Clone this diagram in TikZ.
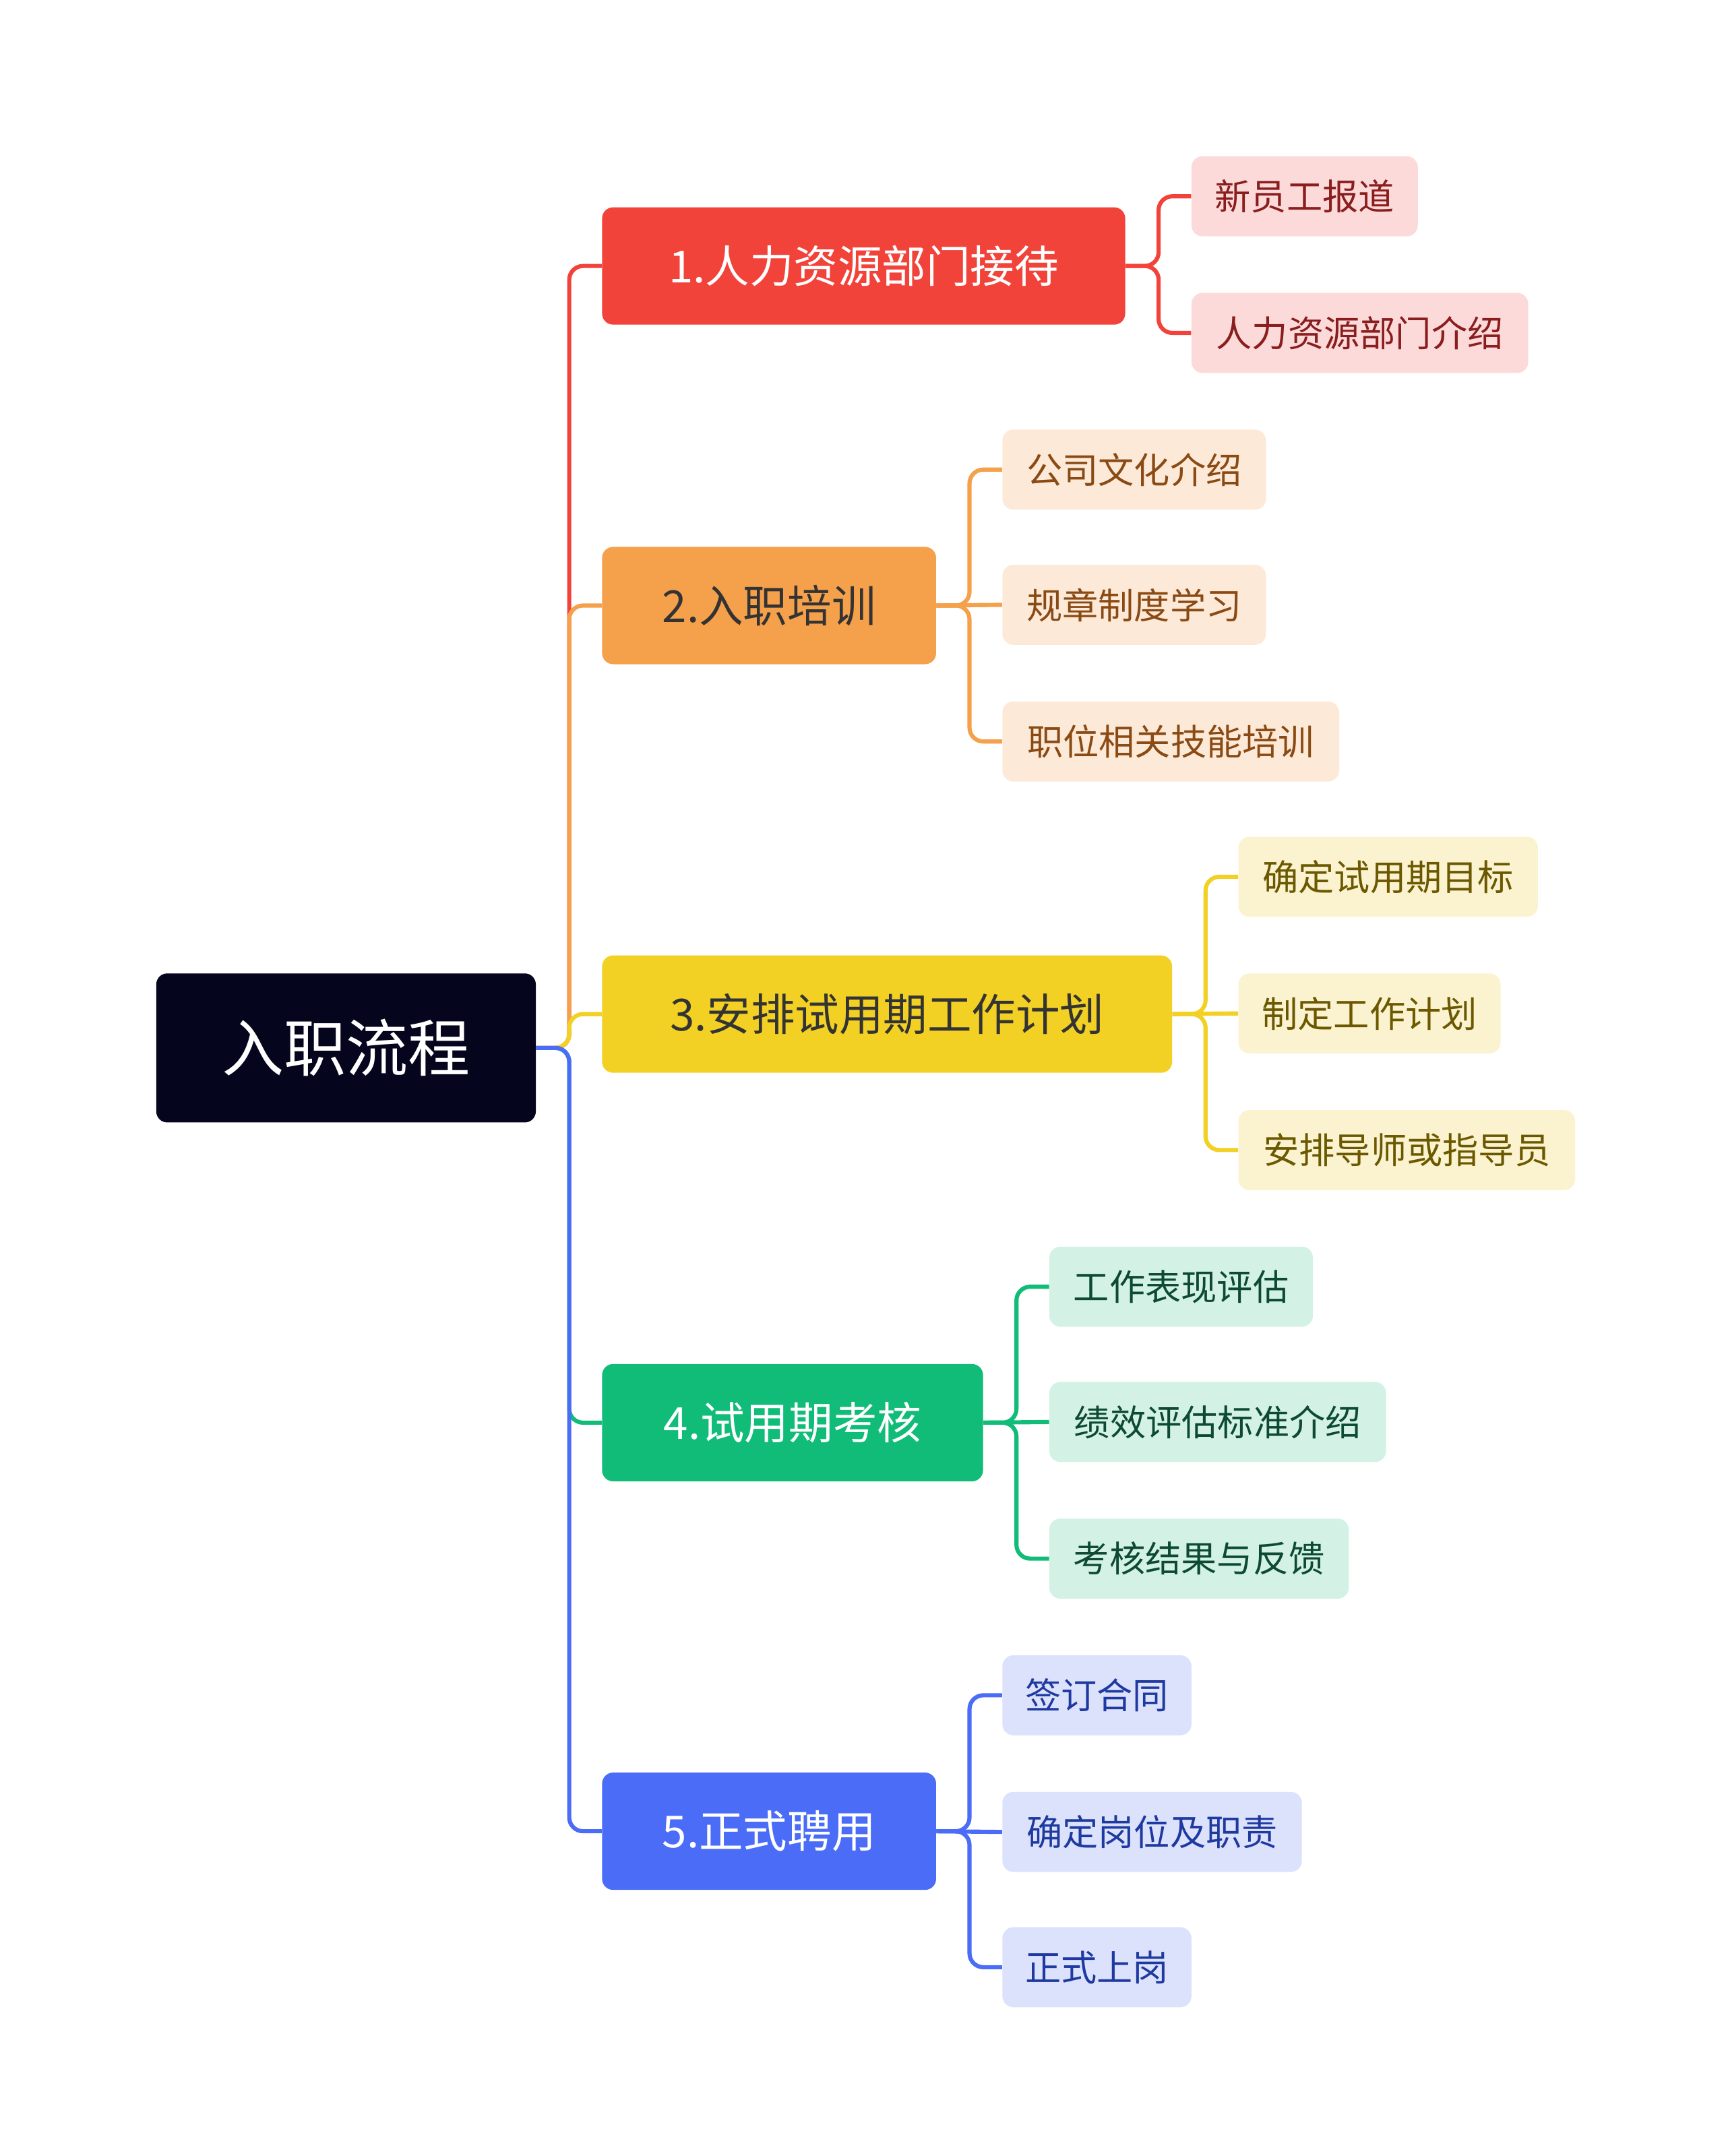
\documentclass[tikz,border=0pt]{standalone}
\usepackage{fontspec}
\setmainfont{Noto Sans CJK SC}
\definecolor{cr}{HTML}{F2433B}\definecolor{co}{HTML}{F5A04B}\definecolor{cy}{HTML}{F2D024}
\definecolor{cg}{HTML}{10BC78}\definecolor{cb}{HTML}{4A6CF7}\definecolor{croot}{HTML}{05051E}
\definecolor{lr}{HTML}{FCDADA}\definecolor{lo}{HTML}{FDE9D7}\definecolor{ly}{HTML}{FBF3CF}
\definecolor{lg}{HTML}{D3F2E5}\definecolor{lb}{HTML}{DDE2FC}
\definecolor{tr}{HTML}{8A1D1D}\definecolor{to}{HTML}{8A4A14}\definecolor{ty}{HTML}{6B5800}
\definecolor{tg}{HTML}{0D4A33}\definecolor{tb}{HTML}{1E3AA0}
\begin{document}
\begin{tikzpicture}[x=1pt,y=-1pt,
 box/.style={anchor=north west,rounded corners=8pt,inner sep=0pt},
 br/.style={box,minimum height=85pt,font=\fontsize{32}{32}\selectfont},
 lf/.style={box,minimum height=58pt,font=\fontsize{26}{26}\selectfont},
 ln/.style={line width=3pt,rounded corners=10pt},
 st/.style={line width=3pt}]
\useasboundingbox (0,0) rectangle (1250,1562);
\node[box,fill=croot,text=white,minimum width=275pt,minimum height=108pt,font=\fontsize{45}{45}\selectfont] (root) at (113,705) {入职流程};
\node[br,fill=cr,text=white,minimum width=379pt] (b1) at (436,150) {1.人力资源部门接待};
\node[br,fill=co,text=black!80,minimum width=242pt] (b2) at (436,396) {2.入职培训};
\node[br,fill=cy,text=black!80,minimum width=413pt] (b3) at (436,692) {3.安排试用期工作计划};
\node[br,fill=cg,text=white,minimum width=276pt] (b4) at (436,988) {4.试用期考核};
\node[br,fill=cb,text=white,minimum width=242pt] (b5) at (436,1284) {5.正式聘用};
\node[lf,fill=lr,text=tr,minimum width=164pt] (l11) at (863,113) {新员工报道};
\node[lf,fill=lr,text=tr,minimum width=244pt] (l12) at (863,212) {人力资源部门介绍};
\node[lf,fill=lo,text=to,minimum width=191pt] (l21) at (726,311) {公司文化介绍};
\node[lf,fill=lo,text=to,minimum width=191pt] (l22) at (726,409) {规章制度学习};
\node[lf,fill=lo,text=to,minimum width=244pt] (l23) at (726,508) {职位相关技能培训};
\node[lf,fill=ly,text=ty,minimum width=217pt] (l31) at (897,606) {确定试用期目标};
\node[lf,fill=ly,text=ty,minimum width=190pt] (l32) at (897,705) {制定工作计划};
\node[lf,fill=ly,text=ty,minimum width=244pt] (l33) at (897,804) {安排导师或指导员};
\node[lf,fill=lg,text=tg,minimum width=191pt] (l41) at (760,903) {工作表现评估};
\node[lf,fill=lg,text=tg,minimum width=244pt] (l42) at (760,1001) {绩效评估标准介绍};
\node[lf,fill=lg,text=tg,minimum width=217pt] (l43) at (760,1100) {考核结果与反馈};
\node[lf,fill=lb,text=tb,minimum width=137pt] (l51) at (726,1199) {签订合同};
\node[lf,fill=lb,text=tb,minimum width=217pt] (l52) at (726,1298) {确定岗位及职责};
\node[lf,fill=lb,text=tb,minimum width=137pt] (l53) at (726,1396) {正式上岗};
% trunk
\draw[ln,cr] (root.east) -- ++(24,0) |- (b1.west);
\draw[ln,co] (root.east) -- ++(24,0) |- (b2.west);
\draw[ln,cy] (root.east) -- ++(24,0) |- (b3.west);
\draw[ln,cg] (root.east) -- ++(24,0) |- (b4.west);
\draw[ln,cb] (root.east) -- ++(24,0) |- (b5.west);
% leaves
\foreach \b/\c/\l in {b1/cr/l11,b1/cr/l12,b2/co/l21,b2/co/l23,b3/cy/l31,b3/cy/l33,b4/cg/l41,b4/cg/l43,b5/cb/l51,b5/cb/l53}
  \draw[ln,\c] (\b.east) -- ++(24,0) |- (\l.west);
\foreach \b/\c/\l in {b2/co/l22,b3/cy/l32,b4/cg/l42,b5/cb/l52}
  \draw[st,\c] (\b.east) -- (\l.west);
\end{tikzpicture}
\end{document}
